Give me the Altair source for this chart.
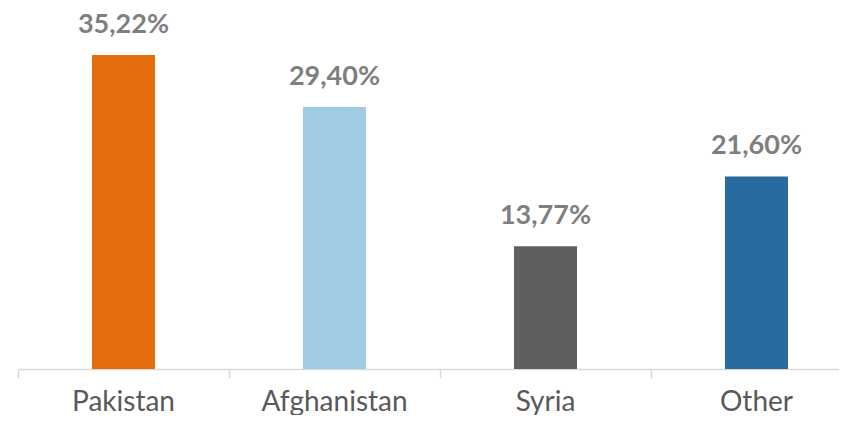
import altair as alt
import pandas as pd

countries = ["Pakistan", "Afghanistan", "Syria", "Other"]
shares = [35.22, 29.40, 13.77, 21.60]
labels = ["35,22%", "29,40%", "13,77%", "21,60%"]
colors = ["#E46C0A", "#9FCBE3", "#5F5F5F", "#286BA0"]
title_text = "S250 UAC"

df = pd.DataFrame({"country": countries, "share": shares, "label": labels, "color": colors})

x = alt.X("country:N", sort=countries,
          scale=alt.Scale(paddingInner=0, paddingOuter=0, range=[0, 844]),
          axis=alt.Axis(title=None, labelAngle=0, labelFont="Lato", labelFontSize=28,
                        labelColor="#595959", labelBaseline="alphabetic", labelPadding=32,
                        tickSize=9, tickColor="#D9D9D9", domainColor="#D9D9D9",
                        domainWidth=1.5, tickWidth=1.5, bandPosition=0))
y = alt.Y("share:Q", scale=alt.Scale(domain=[0, 40.49], nice=False, zero=True), axis=None)

base = alt.Chart(df)
bars = base.mark_bar(size=63).encode(x=x, y=y, color=alt.Color("color:N", scale=None))
text = base.mark_text(font="Lato", fontSize=27, fontWeight="bold", color="#7F7F7F",
                      baseline="alphabetic", dy=-22).encode(x=x, y=y, text="label:N")
title = alt.Chart(pd.DataFrame({"t": [title_text]})).mark_text(
    font="Lato", fontSize=27, fontWeight="bold", color="#2E75A0", baseline="alphabetic"
).encode(x=alt.value(422), y=alt.value(-1), text="t:N")

chart = (bars + text + title).properties(
    width=821, height=361,
    padding={"left": 10, "top": 0, "right": 0, "bottom": 46},
    autosize=alt.AutoSizeParams(type="none"),
).configure_view(stroke=None)

chart.save("out.html", embed_options={"renderer": "svg", "actions": False})
